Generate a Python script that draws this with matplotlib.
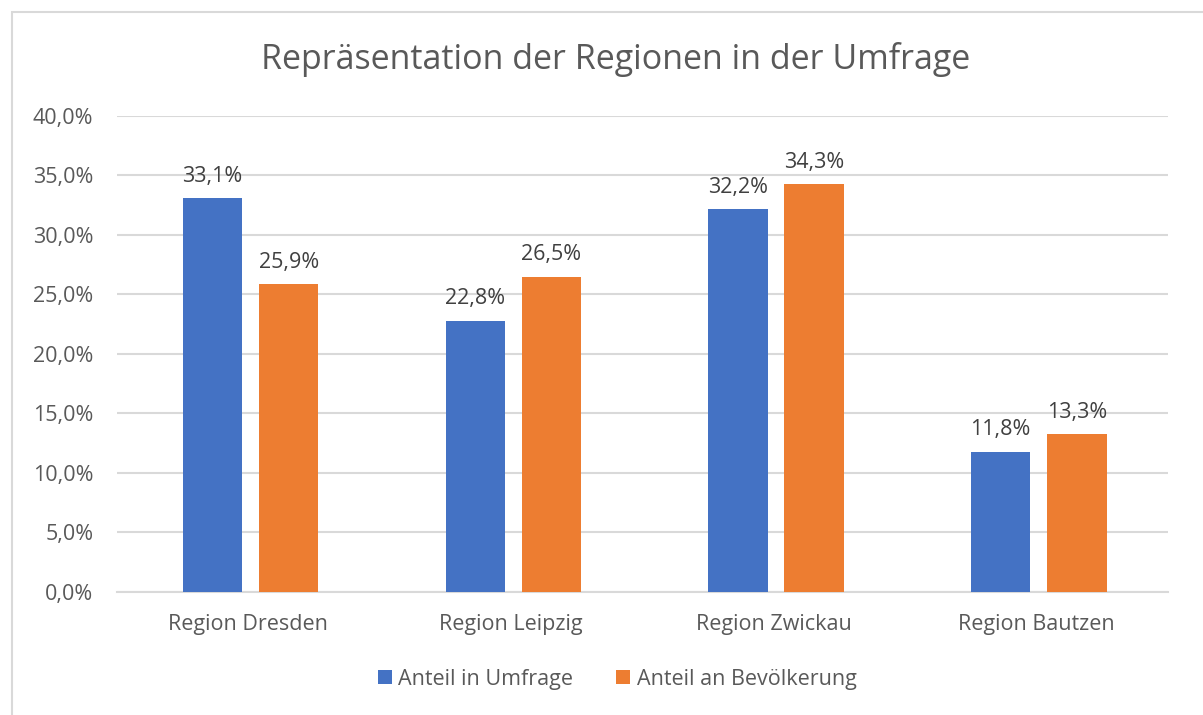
import matplotlib.pyplot as plt
from matplotlib.patches import Rectangle
from matplotlib.ticker import FuncFormatter
import numpy as np

# Daten
regionen = ["Region Dresden", "Region Leipzig", "Region Zwickau", "Region Bautzen"]
anteil_umfrage = [33.1, 22.8, 32.2, 11.8]
anteil_bevoelkerung = [25.9, 26.5, 34.3, 13.3]
y_ticks = [0, 5, 10, 15, 20, 25, 30, 35, 40]

blau = "#4472C4"
orange = "#ED7D31"
text_farbe = "#595959"

plt.rcParams['font.family'] = ['Open Sans', 'DejaVu Sans']

fig = plt.figure(figsize=(12.03, 7.15), dpi=100)
ax = fig.add_axes([0.0973, 0.172, 0.8737, 0.666])

# Rahmen um das Diagramm
fig.patches.append(Rectangle((12 / 1203, -0.01), 1.02, 1 - 12 / 715 + 0.01,
                             transform=fig.transFigure, fill=False,
                             edgecolor="#D9D9D9", linewidth=1.5))

x = np.arange(len(regionen))
breite = 0.226
versatz = 0.145

b1 = ax.bar(x - versatz + 0.008, anteil_umfrage, breite, color=blau,
            label="Anteil in Umfrage", zorder=3)
b2 = ax.bar(x + versatz + 0.008, anteil_bevoelkerung, breite, color=orange,
            label="Anteil an Bevölkerung", zorder=3)

def fmt(v):
    return f"{v:.1f}".replace(".", ",") + "%"

for bars, werte in ((b1, anteil_umfrage), (b2, anteil_bevoelkerung)):
    for bar, w in zip(bars, werte):
        ax.annotate(fmt(w), (bar.get_x() + bar.get_width() / 2, w),
                    xytext=(0, 8), textcoords="offset points",
                    ha="center", va="bottom", fontsize=15.5, color="#404040")

ax.set_xlim(-0.5, 3.5)
ax.set_ylim(0, 40)
ax.set_yticks(y_ticks)
ax.yaxis.set_major_formatter(FuncFormatter(lambda v, p: fmt(v)))
ax.set_xticks(x)
ax.set_xticklabels(regionen)
ax.tick_params(axis="both", length=0, labelsize=15.5, labelcolor=text_farbe)
ax.tick_params(axis="y", pad=17)
ax.tick_params(axis="x", pad=16)
ax.grid(axis="y", color="#D9D9D9", linewidth=1.5, zorder=0)
for s in ("top", "right", "left"):
    ax.spines[s].set_visible(False)
ax.spines["bottom"].set_color("#D9D9D9")
ax.spines["bottom"].set_linewidth(1.5)

fig.text(0.512, 0.917, "Repräsentation der Regionen in der Umfrage",
         ha="center", va="center", fontsize=24.5, color=text_farbe)

fig.legend(loc="center", bbox_to_anchor=(0.513, 0.05), ncol=2, frameon=False,
           fontsize=15.5, labelcolor=text_farbe, handlelength=0.65, handleheight=0.65,
           handletextpad=0.3, columnspacing=2.0)

fig.savefig("out.png", dpi=100)
